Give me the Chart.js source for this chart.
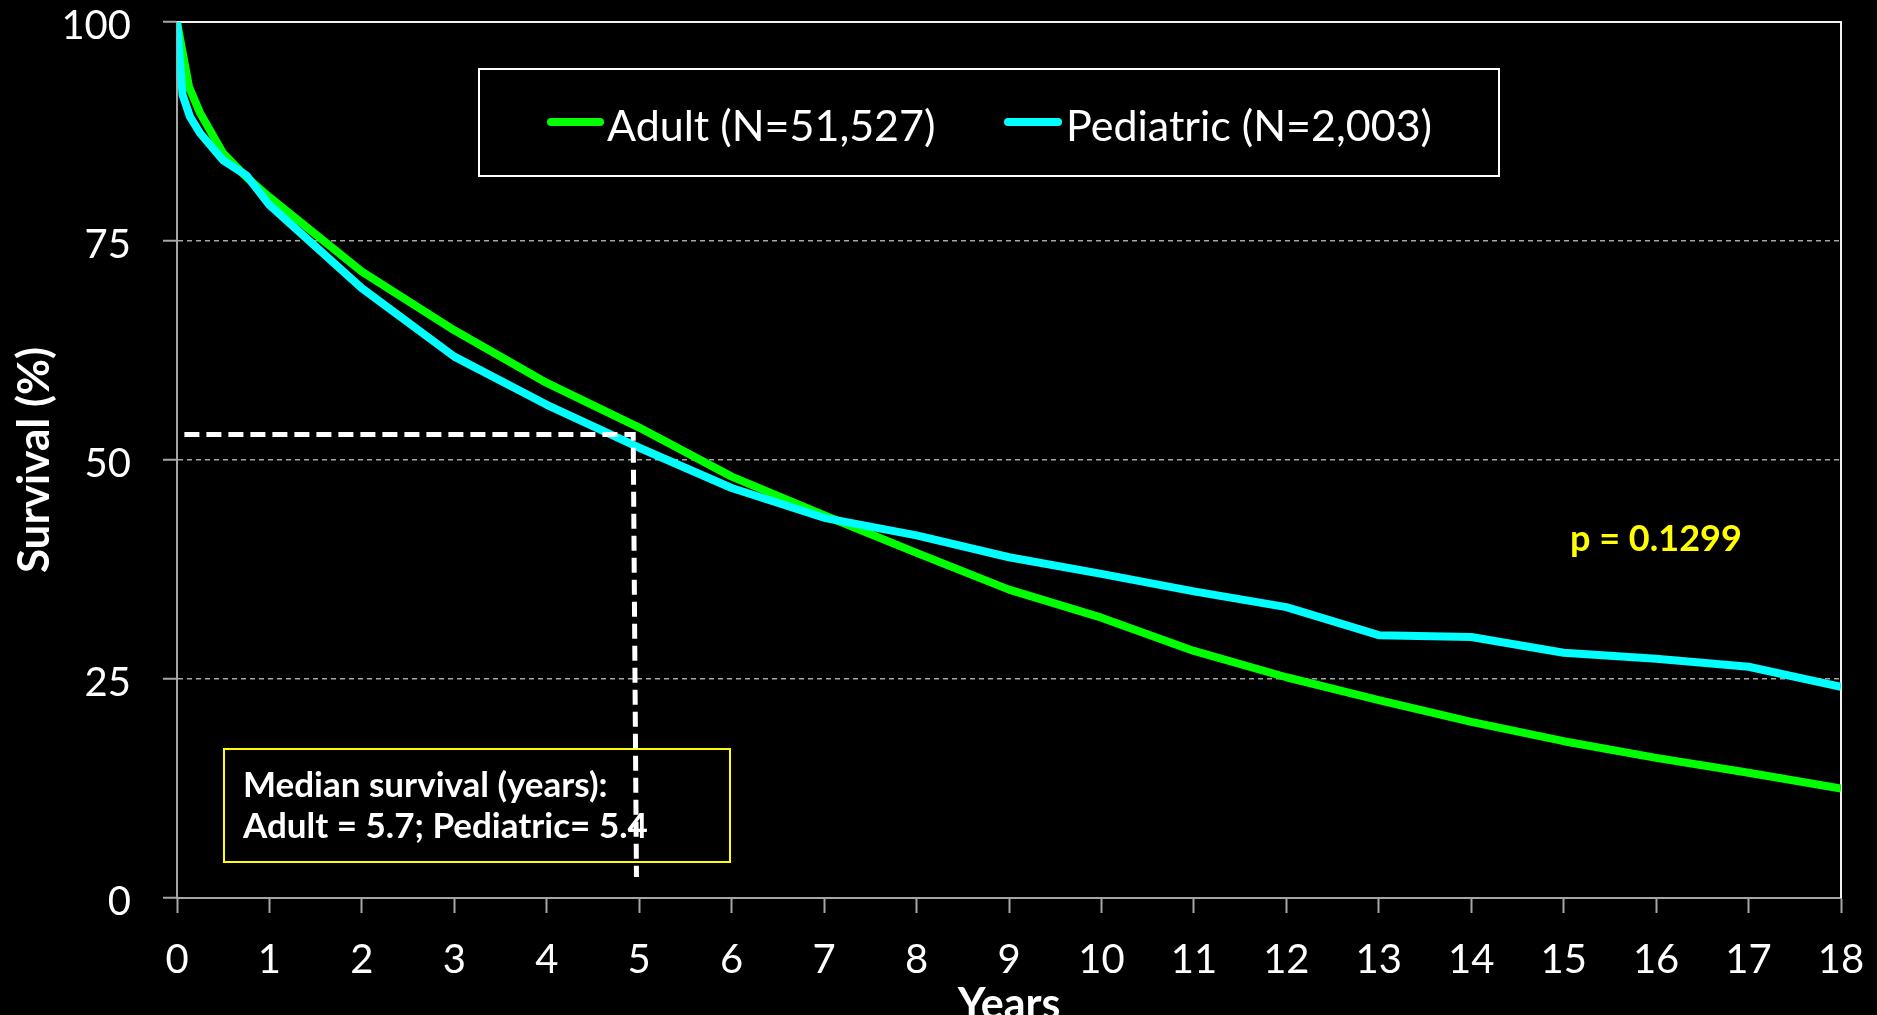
<!DOCTYPE html>
<html>
<head>
<meta charset="utf-8">
<script src="https://cdn.jsdelivr.net/npm/chart.js@4.4.1/dist/chart.umd.min.js"></script>
<style>
html,body{margin:0;padding:0;background:#000;overflow:hidden}
canvas{display:block}
</style>
</head>
<body>
<canvas id="c" width="1877" height="1015"></canvas>
<script>
// ---- data ----
const adultYears    = [0, 0.13, 0.25, 0.5, 0.75, 1, 2, 3, 4, 5, 6, 7, 8, 9, 10, 11, 12, 13, 14, 15, 16, 17, 18];
const adultSurvival = [100, 92.6, 89.6, 85.0, 82.3, 80.0, 71.5, 64.8, 58.8, 53.7, 48.1, 43.7, 39.4, 35.2, 32.0, 28.2, 25.2, 22.6, 20.1, 17.9, 16.0, 14.3, 12.5];
const pedYears      = [0, 0.06, 0.14, 0.25, 0.5, 0.75, 1, 2, 3, 4, 5, 6, 7, 8, 9, 10, 11, 12, 13, 14, 15, 16, 17, 18];
const pedSurvival   = [100, 91.7, 89.2, 87.3, 84.2, 82.5, 79.1, 69.6, 61.8, 56.3, 51.4, 46.8, 43.4, 41.4, 38.9, 37.0, 35.0, 33.2, 30.0, 29.8, 28.0, 27.3, 26.4, 24.1];
const seriesLabels  = ['Adult (N=51,527)', 'Pediatric (N=2,003)'];
const guideYears    = [0.08, 4.935, 4.97];
const guideSurvival = [52.9, 52.9, 2.4];
const yMin = 0, yMax = 100, yStep = 25;
const xMin = 0, xMax = 18, xStep = 1;
const xTitle = 'Years';
const yTitle = 'Survival (%)';
const medianLines = ['Median survival (years):', 'Adult = 5.7; Pediatric= 5.4'];
const pValueText = 'p = 0.1299';

const toPoints = (xs, ys) => xs.map((x, i) => ({x: x, y: ys[i]}));
const FONT = 'Lato';
const GRID = '#a6a6a6';

const decor = {
  id: 'decor',
  beforeDatasetsDraw(chart) {
    const {ctx, chartArea: a} = chart;
    ctx.save();
    // plot frame (top and right)
    ctx.strokeStyle = '#f2f2f2';
    ctx.lineWidth = 2;
    ctx.beginPath();
    ctx.moveTo(a.left, a.top);
    ctx.lineTo(a.right, a.top);
    ctx.lineTo(a.right, a.bottom);
    ctx.stroke();
    // median survival box
    ctx.strokeStyle = '#ffff00';
    ctx.lineWidth = 2;
    ctx.strokeRect(224, 749, 506, 113);
    ctx.fillStyle = '#ffffff';
    ctx.font = 'bold 35px ' + FONT;
    ctx.textAlign = 'left';
    ctx.textBaseline = 'alphabetic';
    ctx.fillText(medianLines[0], 243, 797);
    ctx.fillText(medianLines[1], 243, 838);
    ctx.restore();
  },
  afterDatasetsDraw(chart) {
    const {ctx} = chart;
    const ds = chart.data.datasets;
    ctx.save();
    // legend box
    ctx.fillStyle = '#000';
    ctx.fillRect(479, 69, 1020, 107);
    ctx.strokeStyle = '#ffffff';
    ctx.lineWidth = 2;
    ctx.strokeRect(479, 69, 1020, 107);
    const items = [{x1: 547, x2: 604, tx: 607}, {x1: 1004, x2: 1062, tx: 1066}];
    ctx.font = '43px ' + FONT;
    ctx.textBaseline = 'alphabetic';
    ctx.textAlign = 'left';
    items.forEach((it, i) => {
      ctx.strokeStyle = ds[i].borderColor;
      ctx.lineWidth = 8;
      ctx.lineCap = 'round';
      ctx.beginPath();
      ctx.moveTo(it.x1 + 4, 122);
      ctx.lineTo(it.x2 - 4, 122);
      ctx.stroke();
      ctx.fillStyle = '#ffffff';
      ctx.fillText(ds[i].label, it.tx, 141);
    });
    // p value
    ctx.fillStyle = '#ffff00';
    ctx.font = 'bold 36px ' + FONT;
    ctx.fillText(pValueText, 1570, 551);
    ctx.restore();
  }
};

new Chart(document.getElementById('c'), {
  type: 'line',
  data: {
    datasets: [
      {label: seriesLabels[0], data: toPoints(adultYears, adultSurvival), borderColor: '#00ff00', backgroundColor: '#00ff00',
       borderWidth: 8, pointRadius: 0, tension: 0, borderJoinStyle: 'round', order: 2},
      {label: seriesLabels[1], data: toPoints(pedYears, pedSurvival), borderColor: '#00ffff', backgroundColor: '#00ffff',
       borderWidth: 8, pointRadius: 0, tension: 0, borderJoinStyle: 'round', order: 1},
      {label: 'median guide', data: toPoints(guideYears, guideSurvival), borderColor: '#ffffff',
       borderWidth: 5, borderDash: [15, 7], pointRadius: 0, tension: 0, order: 0}
    ]
  },
  options: {
    responsive: false,
    animation: false,
    devicePixelRatio: 1,
    layout: {autoPadding: false, padding: {top: 22, right: 36, left: 0, bottom: 0}},
    plugins: {legend: {display: false}, tooltip: {enabled: false}},
    scales: {
      x: {
        type: 'linear', min: xMin, max: xMax,
        afterFit(s) { s.height = 117; s.paddingLeft = 0; s.paddingRight = 0; },
        ticks: {stepSize: xStep, color: '#ffffff', font: {family: FONT, size: 40}, padding: 23, maxRotation: 0, autoSkip: false},
        grid: {drawOnChartArea: false, tickLength: 15, tickColor: GRID, tickWidth: 2},
        border: {color: GRID, width: 2},
        title: {display: true, text: xTitle, color: '#ffffff', font: {family: FONT, size: 43, weight: 'bold'}, padding: {top: 0, bottom: -16}}
      },
      y: {
        min: yMin, max: yMax,
        afterFit(s) { s.width = 177; s.paddingTop = 0; s.paddingBottom = 0; },
        ticks: {stepSize: yStep, color: '#ffffff', font: {family: FONT, size: 40}, padding: 32, labelOffset: 4},
        grid: {
          color: (c) => (c.tick && (c.tick.value === yMin || c.tick.value === yMax)) ? 'rgba(0,0,0,0)' : GRID,
          lineWidth: 1.5, tickLength: 14, tickColor: GRID, tickWidth: 2
        },
        border: {color: GRID, width: 2, dash: [5, 4]},
        title: {display: true, text: yTitle, color: '#ffffff', font: {family: FONT, size: 44, weight: 'bold'}, padding: {top: 8, bottom: 0}}
      }
    }
  },
  plugins: [decor]
});
</script>
</body>
</html>
